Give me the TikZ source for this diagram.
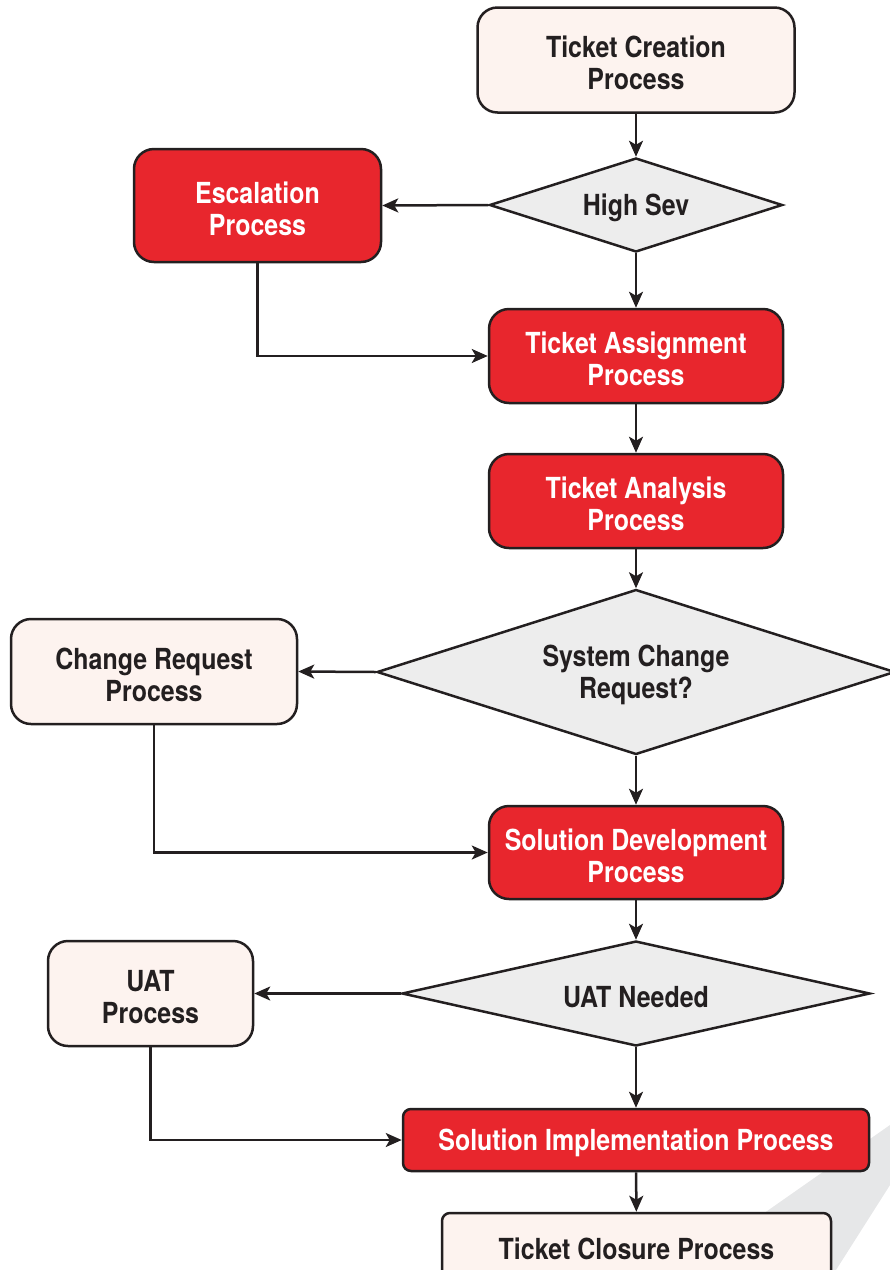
\documentclass[tikz,border=0pt]{standalone}
\usepackage{fontspec}
\newfontfamily\condfont{TeX Gyre Heros}[FakeStretch=0.86]
\usetikzlibrary{arrows.meta,shapes.geometric}
\definecolor{ink}{HTML}{231F20}
\definecolor{redfill}{HTML}{E8262D}
\definecolor{palefill}{HTML}{FDF3EF}
\definecolor{grayfill}{HTML}{EDEDED}
\definecolor{wedge}{HTML}{E6E7E8}
\newcommand{\lift}{\rule{0pt}{27.5pt}}
\tikzset{
  txt/.style={font=\condfont\bfseries\fontsize{29}{32}\selectfont},
  base/.style={draw=ink, line width=2.5pt, inner sep=0pt, align=center, txt},
  palebox/.style={base, fill=palefill, text=ink, rounded corners=20pt},
  redbox/.style={base, fill=redfill, text=white, rounded corners=20pt},
  decision/.style={draw=ink, line width=2.5pt, fill=grayfill, diamond, inner sep=0pt},
  dlabel/.style={text=ink, align=center, txt},
  link/.style={draw=ink, line width=2.5pt, -{Stealth[length=16pt,width=14pt,inset=4pt]}},
}
\begin{document}
\begin{tikzpicture}[x=1pt,y=-1pt]
\useasboundingbox (0,0) rectangle (890,1270);
\clip (0,0) rectangle (890,1270);
\fill[wedge] (890,1125) -- (700,1258) -- (700,1270) -- (836,1270) -- (890,1185) -- cycle;

\node[palebox, minimum width=317pt, minimum height=105pt] (create) at (636,60) {\lift Ticket Creation\\Process};
\node[decision, minimum width=293pt, minimum height=94pt,
  label={[dlabel]center:\lift High Sev}] (sev) at (636,205) {};
\node[redbox, minimum width=247pt, minimum height=113pt] (esc) at (257.5,205.5) {\lift Escalation\\Process};
\node[redbox, minimum width=294pt, minimum height=94pt] (assign) at (636,356) {\lift Ticket Assignment\\Process};
\node[redbox, minimum width=294pt, minimum height=94pt] (analysis) at (636,501) {\lift Ticket Analysis\\Process};
\node[decision, minimum width=518pt, minimum height=165pt,
  label={[dlabel]center:\lift System Change\\Request?}] (scr) at (636,672) {};
\node[palebox, minimum width=286pt, minimum height=105pt] (cr) at (154,671.5) {\lift Change Request\\Process};
\node[redbox, minimum width=294pt, minimum height=93pt] (dev) at (636,852.5) {\lift Solution Development\\Process};
\node[decision, minimum width=468pt, minimum height=105pt,
  label={[dlabel]center:\lift UAT Needed}] (uatq) at (636,993.5) {};
\node[palebox, minimum width=205pt, minimum height=105pt] (uat) at (150.5,993.5) {\lift UAT\\Process};
\node[redbox, rounded corners=8pt, minimum width=466pt, minimum height=62pt] (impl) at (636,1140) {\lift Solution Implementation Process};
\node[palebox, rounded corners=8pt, minimum width=389pt, minimum height=66pt] (close) at (636.5,1246) {\lift Ticket Closure Process};

\draw[link] (create) -- (sev);
\draw[link] (sev.west) -- (esc.east);
\draw[link] (sev) -- (assign);
\draw[link] (esc.south) |- (assign.west);
\draw[link] (assign) -- (analysis);
\draw[link] (analysis) -- (scr.north);
\draw[link] (scr.west) -- (cr.east);
\draw[link] (scr.south) -- (dev.north);
\draw[link] (cr.south) |- (dev.west);
\draw[link] (dev) -- (uatq.north);
\draw[link] (uatq.west) -- (uat.east);
\draw[link] (uatq.south) -- (impl.north);
\draw[link] (uat.south) |- (impl.west);
\draw[link] (impl) -- (close);
\end{tikzpicture}
\end{document}
